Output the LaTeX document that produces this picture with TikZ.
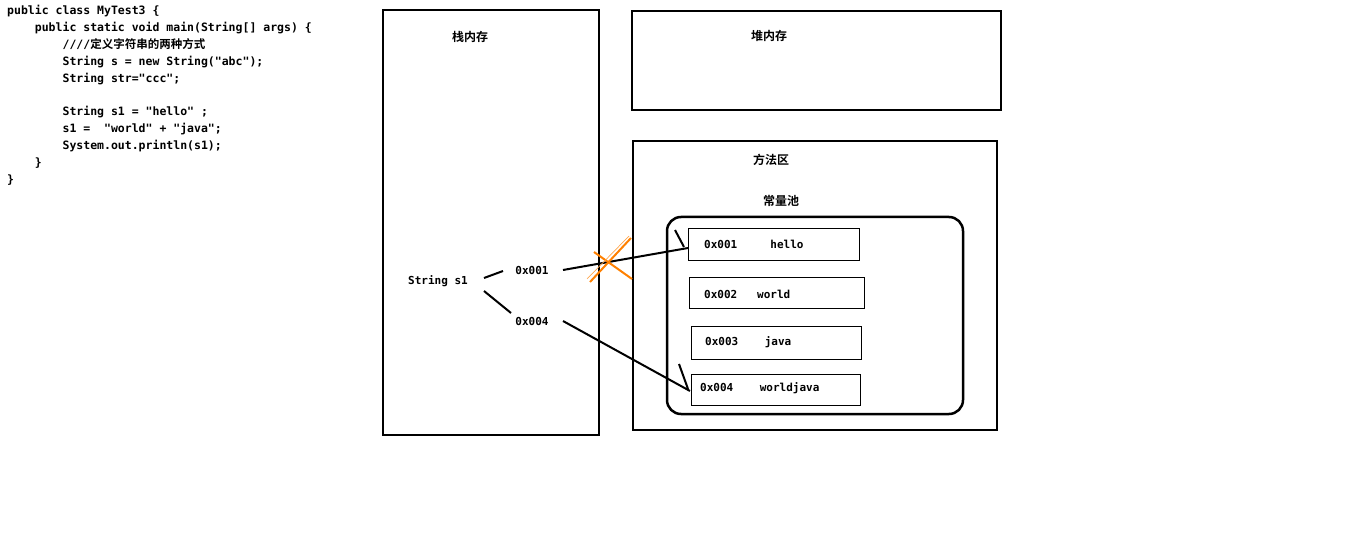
\documentclass[tikz,border=0pt]{standalone}
\usepackage{fontspec}
\setmonofont{DejaVu Sans Mono}
\newfontfamily\cjk{Noto Sans CJK SC}[BoldFont={Noto Sans CJK SC Bold}]
\begin{document}
\begin{tikzpicture}[x=1pt,y=-1pt,
  box/.style={draw,line width=2.5pt},
  cell/.style={draw,line width=0.8pt},
  lbl/.style={font=\fontsize{11}{13}\selectfont\ttfamily\bfseries,inner sep=0},
  zh/.style={font=\fontsize{12}{14}\selectfont\cjk\bfseries,inner sep=0},
  ln/.style={line width=2pt}]
\useasboundingbox (0,0) rectangle (1360,540);
\node[anchor=north west,align=left,inner sep=0,font=\fontsize{11.5}{16.9}\selectfont\ttfamily\bfseries] (code) at (7,5) {public class MyTest3 \{\\
\ \ \ \ public static void main(String[] args) \{\\
\ \ \ \ \ \ \ \ ////{\cjk 定义字符串的两种方式}\\
\ \ \ \ \ \ \ \ String s = new String(\textquotedbl abc\textquotedbl);\\
\ \ \ \ \ \ \ \ String str=\textquotedbl ccc\textquotedbl;\\
\mbox{}\\
\ \ \ \ \ \ \ \ String s1 = \textquotedbl hello\textquotedbl\ ;\\
\ \ \ \ \ \ \ \ s1 = \ \textquotedbl world\textquotedbl\ + \textquotedbl java\textquotedbl;\\
\ \ \ \ \ \ \ \ System.out.println(s1);\\
\ \ \ \ \}\\
\}};
\draw[box] (383,10) rectangle (599,435);
\draw[box] (632,11) rectangle (1001,110);
\draw[box] (633,141) rectangle (997,430);
\draw[box,rounded corners=14pt] (667,217) rectangle (963,414);
\node[zh] (stack) at (470,37) {栈内存};
\node[zh] (heap) at (769,36) {堆内存};
\node[zh] (method) at (771,160) {方法区};
\node[zh] (pool) at (781,201) {常量池};
\draw[cell] (688,228) rectangle (859,260);
\draw[cell] (689,277) rectangle (864,308);
\draw[cell] (691,326) rectangle (861,359);
\draw[cell] (691,374) rectangle (860,405);
\node[lbl,anchor=west] (c1) at (704,244) {0x001\ \ \ \ \ hello};
\node[lbl,anchor=west] (c2) at (704,294) {0x002\ \ \ world};
\node[lbl,anchor=west] (c3) at (705,342) {0x003\ \ \ \ java};
\node[lbl,anchor=west] (c4) at (700,388) {0x004\ \ \ \ worldjava};
\node[lbl] (s1) at (438,281) {String s1};
\node[lbl] (a1) at (532,270) {0x001};
\node[lbl] (a4) at (532,321) {0x004};
\coordinate (p1) at (688,248);
\coordinate (p4) at (690,391);
\draw[ln] (484,278) -- (503,271);
\draw[ln] (484,291) -- (511,313);
\draw[ln] (563,270) -- (p1);
\draw[ln] (675,230) -- (684,247);
\draw[ln] (563,321) -- (p4);
\draw[ln] (679,364) -- (688,389);
\draw[orange,line width=2pt] (594,252) -- (632,279);
\draw[orange,line width=2pt] (590,282) -- (631,238);
\draw[orange!70,line width=0.7pt] (587,279) -- (629,236);
\end{tikzpicture}
\end{document}
